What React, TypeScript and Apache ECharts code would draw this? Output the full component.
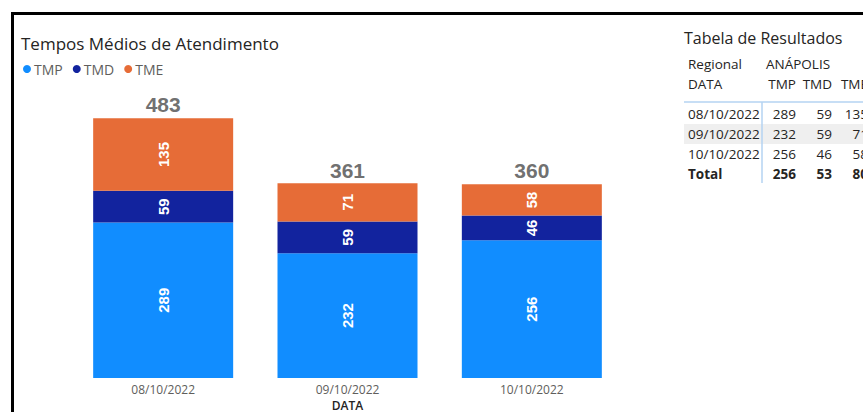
import React, { useEffect, useRef } from "react";
import * as echarts from "echarts";

const categories = ["08/10/2022", "09/10/2022", "10/10/2022"];
const tmpValues = [289, 232, 256];
const tmdValues = [59, 59, 46];
const tmeValues = [135, 71, 58];
const totalValues = [483, 361, 360];
const tableTotals = [256, 53, 80];
const seriesNames = ["TMP", "TMD", "TME"];
const colors = ["#118DFF", "#12239E", "#E66C37"];

const FONT = "'Open Sans', 'Noto Sans', sans-serif";
const BOLD_FONT = "'Liberation Sans', Arial, sans-serif";

export default function App() {
  const ref = useRef<HTMLDivElement>(null);

  useEffect(() => {
    if (!ref.current) return;
    const chart = echarts.init(ref.current, undefined, { renderer: "svg" });

    const barLabel = {
      show: true,
      position: "inside",
      rotate: 90,
      color: "#ffffff",
      fontFamily: BOLD_FONT,
      fontWeight: "bold",
      fontSize: 15,
    };

    // Table graphics
    const tableText = "#252423";
    const colRight = [796, 832, 868];
    const tableG: any[] = [];
    tableG.push({
      type: "rect",
      shape: { x: 684, y: 124, width: 200, height: 20 },
      style: { fill: "#EFEFEF" },
      z: 1,
    });
    tableG.push({
      type: "line",
      shape: { x1: 684, y1: 102, x2: 870, y2: 102 },
      style: { stroke: "#B4D3F2", lineWidth: 1.5 },
      z: 2,
    });
    tableG.push({
      type: "line",
      shape: { x1: 762, y1: 102, x2: 762, y2: 183 },
      style: { stroke: "#B4D3F2", lineWidth: 1.5 },
      z: 2,
    });
    tableG.push({
      type: "text",
      left: 684,
      top: 30,
      style: { text: "Tabela de Resultados", font: `16px ${FONT}`, fill: tableText },
      z: 3,
    });
    const txt = (text: string, x: number, y: number, align: string, bold = false) => ({
      type: "text",
      x,
      y,
      style: {
        text,
        font: `${bold ? "bold " : ""}13.5px ${FONT}`,
        fill: tableText,
        textAlign: align,
        textVerticalAlign: "middle",
      },
      z: 3,
    });
    tableG.push(txt("Regional", 688, 64, "left"));
    tableG.push(txt("ANÁPOLIS", 766, 64, "left"));
    tableG.push(txt("DATA", 688, 84, "left"));
    seriesNames.forEach((n, i) => tableG.push(txt(n, colRight[i], 84, "right")));
    const cols = [tmpValues, tmdValues, tmeValues];
    categories.forEach((c, r) => {
      const y = 114 + r * 20;
      tableG.push(txt(c, 688, y, "left"));
      cols.forEach((col, i) => tableG.push(txt(String(col[r]), colRight[i], y, "right")));
    });
    tableG.push(txt("Total", 688, 174, "left", true));
    tableTotals.forEach((v, i) => tableG.push(txt(String(v), colRight[i], 174, "right", true)));

    chart.setOption({
      animation: false,
      title: {
        text: "Tempos Médios de Atendimento",
        left: 16,
        top: 30,
        textStyle: { fontFamily: FONT, fontSize: 17, fontWeight: "normal", color: "#252423" },
      },
      legend: {
        data: seriesNames,
        left: 18,
        top: 57,
        icon: "circle",
        itemWidth: 8,
        itemHeight: 8,
        itemGap: 10,
        textStyle: { fontFamily: FONT, fontSize: 14, color: "#605E5C", padding: [0, 0, 0, -2] },
      },
      grid: { left: 71, right: 239, top: 109, bottom: 34, outerBoundsMode: "none", containLabel: false },
      xAxis: {
        type: "category",
        data: categories,
        name: "DATA",
        nameLocation: "middle",
        nameGap: 19,
        nameTextStyle: { fontFamily: FONT, fontSize: 12, fontWeight: 600, color: "#252423" },
        axisLine: { show: false },
        axisTick: { show: false },
        axisLabel: { fontFamily: FONT, fontSize: 12, color: "#605E5C", margin: 5 },
      },
      yAxis: {
        type: "value",
        min: 0,
        max: 500,
        show: false,
        splitLine: { show: false },
      },
      series: [
        {
          name: "TMP",
          type: "bar",
          stack: "t",
          barWidth: 140,
          data: tmpValues,
          itemStyle: { color: colors[0] },
          label: barLabel,
        },
        {
          name: "TMD",
          type: "bar",
          stack: "t",
          barWidth: 140,
          data: tmdValues,
          itemStyle: { color: colors[1] },
          label: barLabel,
        },
        {
          name: "TME",
          type: "bar",
          stack: "t",
          barWidth: 140,
          data: tmeValues,
          itemStyle: { color: colors[2] },
          label: barLabel,
        },
        {
          name: "Total",
          type: "scatter",
          data: totalValues,
          symbolSize: 0.1,
          itemStyle: { color: "rgba(0,0,0,0)" },
          z: 5,
          label: {
            show: true,
            position: "top",
            distance: 3,
            color: "#4A4A4A",
            fontFamily: BOLD_FONT,
            fontWeight: "bold",
            fontSize: 21,
          },
        },
      ],
      graphic: [
        {
          type: "rect",
          shape: { x: 12.5, y: 13.5, width: 1000, height: 1000 },
          style: { fill: "none", stroke: "#000000", lineWidth: 3 },
          z: 10,
        },
        ...tableG,
      ],
    });

    return () => chart.dispose();
  }, []);

  return (
    <div
      ref={ref}
      style={{ position: "absolute", left: 0, top: 0, width: 863, height: 412, background: "#ffffff" }}
    />
  );
}
